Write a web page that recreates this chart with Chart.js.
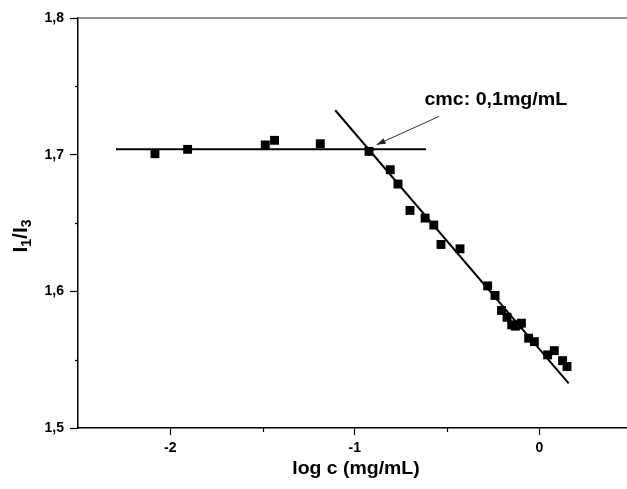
<!DOCTYPE html>
<html>
<head>
<meta charset="utf-8">
<script src="https://cdn.jsdelivr.net/npm/chart.js@4/dist/chart.umd.min.js"></script>
<style>
html,body{margin:0;padding:0;background:#fff;}
#wrap{width:627px;height:489px;}
</style>
</head>
<body>
<div id="wrap"><canvas id="c" width="627" height="489"></canvas></div>
<script>
// ---- data ----
const logC  = [-2.083, -1.906, -1.485, -1.435, -1.187, -0.923, -0.808, -0.766, -0.701, -0.619, -0.572, -0.533, -0.430,
               -0.280, -0.240, -0.205, -0.175, -0.150, -0.130, -0.112, -0.097, -0.058, -0.027, 0.045, 0.081, 0.126, 0.150];
const ratio = [1.7007, 1.7039, 1.7071, 1.7105, 1.7080, 1.7024, 1.6890, 1.6785, 1.6592, 1.6536, 1.6485, 1.6343, 1.6311,
               1.6040, 1.5970, 1.5860, 1.5810, 1.5755, 1.5745, 1.5755, 1.5767, 1.5657, 1.5632, 1.5535, 1.5566, 1.5493, 1.5450];
const plateauX = [-2.294, -0.614];
const plateauY = [1.704, 1.704];
const fitX = [-1.106, 0.159];
const fitY = [1.7325, 1.5327];
const xTicks = [-2, -1.5, -1, -0.5, 0];
const xMajor = [-2, -1, 0];
const yTicks = [1.5, 1.55, 1.6, 1.65, 1.7, 1.75, 1.8];
const yMajor = [1.5, 1.6, 1.7, 1.8];
const annotText = 'cmc: 0,1mg/mL';
const annotPos = [-0.623, 1.7403];
const arrowFrom = [-0.542, 1.7281];
const arrowTo = [-0.882, 1.7073];
const xTitle = 'log c (mg/mL)';

const isMajor = (arr, v) => arr.some(m => Math.abs(m - v) < 1e-9);
const pts = (xs, ys) => xs.map((x, i) => ({x: x, y: ys[i]}));

const FONT = '"Liberation Sans", Arial, sans-serif';

const decor = {
  id: 'decor',
  afterDraw(chart) {
    const ctx = chart.ctx, ca = chart.chartArea;
    const xs = chart.scales.x, ys = chart.scales.y;
    ctx.save();
    // top frame line
    ctx.strokeStyle = '#6e6e6e';
    ctx.lineWidth = 1.5;
    ctx.beginPath();
    ctx.moveTo(ca.left, ca.top);
    ctx.lineTo(ca.right, ca.top);
    ctx.stroke();
    // minor ticks
    ctx.strokeStyle = '#000';
    ctx.lineWidth = 1.2;
    xTicks.forEach(v => {
      if (isMajor(xMajor, v)) return;
      const px = Math.round(xs.getPixelForValue(v)) + 0.5;
      ctx.beginPath(); ctx.moveTo(px, ca.bottom); ctx.lineTo(px, ca.bottom + 4); ctx.stroke();
    });
    yTicks.forEach(v => {
      if (isMajor(yMajor, v)) return;
      const py = Math.round(ys.getPixelForValue(v)) + 0.5;
      ctx.beginPath(); ctx.moveTo(ca.left, py); ctx.lineTo(ca.left - 3, py); ctx.stroke();
    });
    // arrow
    const ax0 = xs.getPixelForValue(arrowFrom[0]), ay0 = ys.getPixelForValue(arrowFrom[1]);
    const ax1 = xs.getPixelForValue(arrowTo[0]), ay1 = ys.getPixelForValue(arrowTo[1]);
    ctx.strokeStyle = '#333';
    ctx.fillStyle = '#222';
    ctx.lineWidth = 1;
    ctx.beginPath(); ctx.moveTo(ax0, ay0); ctx.lineTo(ax1, ay1); ctx.stroke();
    const ang = Math.atan2(ay1 - ay0, ax1 - ax0);
    const L = 9, W = 3;
    ctx.beginPath();
    ctx.moveTo(ax1, ay1);
    ctx.lineTo(ax1 - L * Math.cos(ang) + W * Math.sin(ang), ay1 - L * Math.sin(ang) - W * Math.cos(ang));
    ctx.lineTo(ax1 - L * Math.cos(ang) - W * Math.sin(ang), ay1 - L * Math.sin(ang) + W * Math.cos(ang));
    ctx.closePath();
    ctx.fill();
    // annotation text
    ctx.fillStyle = '#000';
    ctx.textBaseline = 'middle';
    ctx.textAlign = 'left';
    ctx.font = 'bold 18px ' + FONT;
    ctx.save();
    ctx.translate(xs.getPixelForValue(annotPos[0]), ys.getPixelForValue(annotPos[1]));
    ctx.scale(1.09, 1);
    ctx.fillText(annotText, 0, 0);
    ctx.restore();
    // x title
    ctx.save();
    ctx.translate(356, 469);
    ctx.scale(1.08, 1);
    ctx.textAlign = 'center';
    ctx.font = 'bold 18px ' + FONT;
    ctx.fillText(xTitle, 0, 0);
    ctx.restore();
    // y title I1/I3 with subscripts, rotated
    ctx.save();
    ctx.translate(27, 236);
    ctx.rotate(-Math.PI / 2);
    ctx.textAlign = 'left';
    ctx.textBaseline = 'alphabetic';
    const big = 'bold 21px ' + FONT, small = 'bold 14px ' + FONT;
    const parts = [['I', big, 0], ['1', small, 4], ['/', big, 0], ['I', big, 0], ['3', small, 4]];
    let total = 0;
    parts.forEach(p => { ctx.font = p[1]; total += ctx.measureText(p[0]).width; });
    let cx = -total / 2;
    parts.forEach(p => {
      ctx.font = p[1];
      ctx.fillText(p[0], cx, p[2]);
      cx += ctx.measureText(p[0]).width;
    });
    ctx.restore();
    ctx.restore();
  }
};

new Chart(document.getElementById('c'), {
  type: 'scatter',
  data: {
    datasets: [
      {
        label: 'I1/I3',
        data: pts(logC, ratio),
        pointStyle: 'rect',
        pointRadius: 6.3,
        pointHoverRadius: 6.3,
        backgroundColor: '#000',
        borderColor: '#000',
        borderWidth: 0,
        showLine: false
      },
      {
        label: 'plateau',
        data: pts(plateauX, plateauY),
        showLine: true,
        borderColor: '#000',
        borderWidth: 2,
        pointRadius: 0
      },
      {
        label: 'fit',
        data: pts(fitX, fitY),
        showLine: true,
        borderColor: '#000',
        borderWidth: 2,
        pointRadius: 0
      }
    ]
  },
  options: {
    responsive: false,
    animation: false,
    devicePixelRatio: 1,
    layout: {autoPadding: false, padding: {top: 18, right: 0, left: 0, bottom: 0}},
    plugins: {legend: {display: false}, tooltip: {enabled: false}, title: {display: false}},
    scales: {
      x: {
        type: 'linear',
        min: -2.5,
        max: 0.475,
        afterBuildTicks: s => { s.ticks = xTicks.map(v => ({value: v})); },
        afterFit: s => { s.height = 61; s.paddingLeft = 0; s.paddingRight = 0; },
        border: {display: true, color: '#000', width: 1.5},
        grid: {
          drawOnChartArea: false,
          drawTicks: true,
          tickLength: 7,
          tickWidth: 1.2,
          tickColor: c => isMajor(xMajor, c.tick.value) ? '#000' : 'rgba(0,0,0,0)'
        },
        ticks: {
          autoSkip: false,
          maxRotation: 0,
          padding: 5,
          color: '#000',
          font: {family: FONT, size: 14, weight: 'bold'},
          callback: v => isMajor(xMajor, v) ? String(v) : ''
        }
      },
      y: {
        type: 'linear',
        min: 1.5,
        max: 1.8,
        afterBuildTicks: s => { s.ticks = yTicks.map(v => ({value: v})); },
        afterFit: s => { s.width = 78; s.paddingTop = 0; s.paddingBottom = 0; },
        border: {display: true, color: '#000', width: 1.5},
        grid: {
          drawOnChartArea: false,
          drawTicks: true,
          tickLength: 8,
          tickWidth: 1.2,
          tickColor: c => isMajor(yMajor, c.tick.value) ? '#000' : 'rgba(0,0,0,0)'
        },
        ticks: {
          autoSkip: false,
          padding: 6,
          color: '#000',
          font: {family: FONT, size: 14, weight: 'bold'},
          callback: v => isMajor(yMajor, v) ? v.toFixed(1).replace('.', ',') : ''
        }
      }
    }
  },
  plugins: [decor]
});
</script>
</body>
</html>
